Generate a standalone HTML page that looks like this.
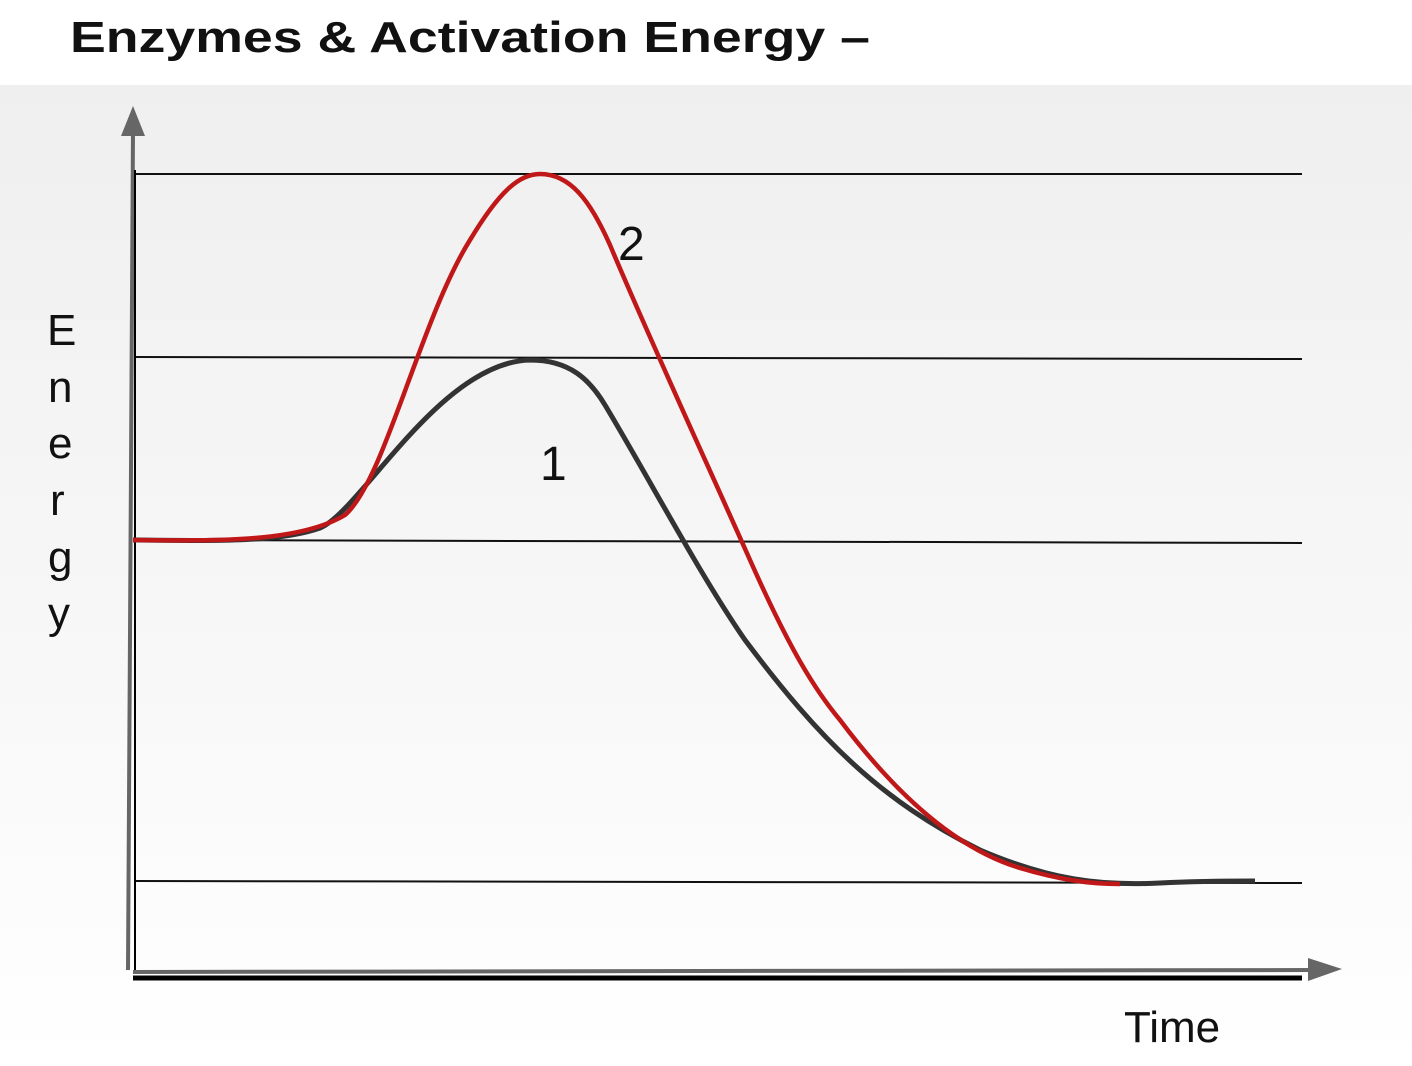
<!DOCTYPE html>
<html><head><style>
html,body{margin:0;padding:0;width:1412px;height:1066px;overflow:hidden;background:#fff}
</style></head><body>
<svg width="1412" height="1066" viewBox="0 0 1412 1066" xmlns="http://www.w3.org/2000/svg">
<defs><linearGradient id="bg" x1="0" y1="0" x2="0" y2="1">
<stop offset="0" stop-color="#efefef"/><stop offset="0.6" stop-color="#f8f8f8"/><stop offset="1" stop-color="#ffffff"/></linearGradient></defs>
<rect x="0" y="85" width="1412" height="981" fill="url(#bg)"/>
<text x="70" y="52" font-family="'Liberation Sans',sans-serif" font-weight="bold" font-size="44" fill="#111" textLength="800" lengthAdjust="spacingAndGlyphs">Enzymes &amp; Activation Energy –</text>
<g stroke="#111" stroke-width="2">
<line x1="136" y1="174" x2="1302" y2="174"/>
<line x1="136" y1="357" x2="1302" y2="359"/>
<line x1="136" y1="540" x2="1302" y2="543"/>
<line x1="136" y1="881" x2="1302" y2="883"/>
</g>
<line x1="133" y1="978" x2="1302" y2="978" stroke="#000" stroke-width="5"/>
<line x1="133" y1="972" x2="1312" y2="970" stroke="#666" stroke-width="4"/>
<polygon points="1308,958 1342,969 1308,981" fill="#666"/>
<line x1="128" y1="970" x2="133" y2="130" stroke="#666" stroke-width="4"/>
<line x1="135" y1="970" x2="135" y2="170" stroke="#000" stroke-width="2"/>
<polygon points="121,136 133,106 145,136" fill="#666"/>
<path d="M133,540 C220,541 280,542 320,528 C360,512 440,362 530,360 C570,360 590,380 605,405 C650,480 700,575 745,640 C820,740 880,800 980,850 C1050,880 1100,886 1160,883 C1200,881 1230,881 1255,881" fill="none" stroke="#333" stroke-width="5"/>
<path d="M133,540 C220,541 300,542 345,515 C385,480 420,320 470,240 C500,190 520,174 540,174 C570,174 590,200 610,245 C650,340 710,470 750,560 C790,650 815,690 840,720 C900,800 960,850 1020,868 C1060,880 1090,884 1120,884" fill="none" stroke="#c01818" stroke-width="4.5"/>
<g font-family="'Liberation Sans',sans-serif" font-size="48" fill="#111">
<text x="618" y="260">2</text>
<text x="540" y="480">1</text>
<text x="1124" y="1042" font-size="44">Time</text>
<text x="47" y="345" font-size="44">E</text>
<text x="48" y="402" font-size="44">n</text>
<text x="48" y="458" font-size="44">e</text>
<text x="50" y="515" font-size="44">r</text>
<text x="48" y="572" font-size="44">g</text>
<text x="48" y="628" font-size="44">y</text>
</g>
</svg>
</body></html>
